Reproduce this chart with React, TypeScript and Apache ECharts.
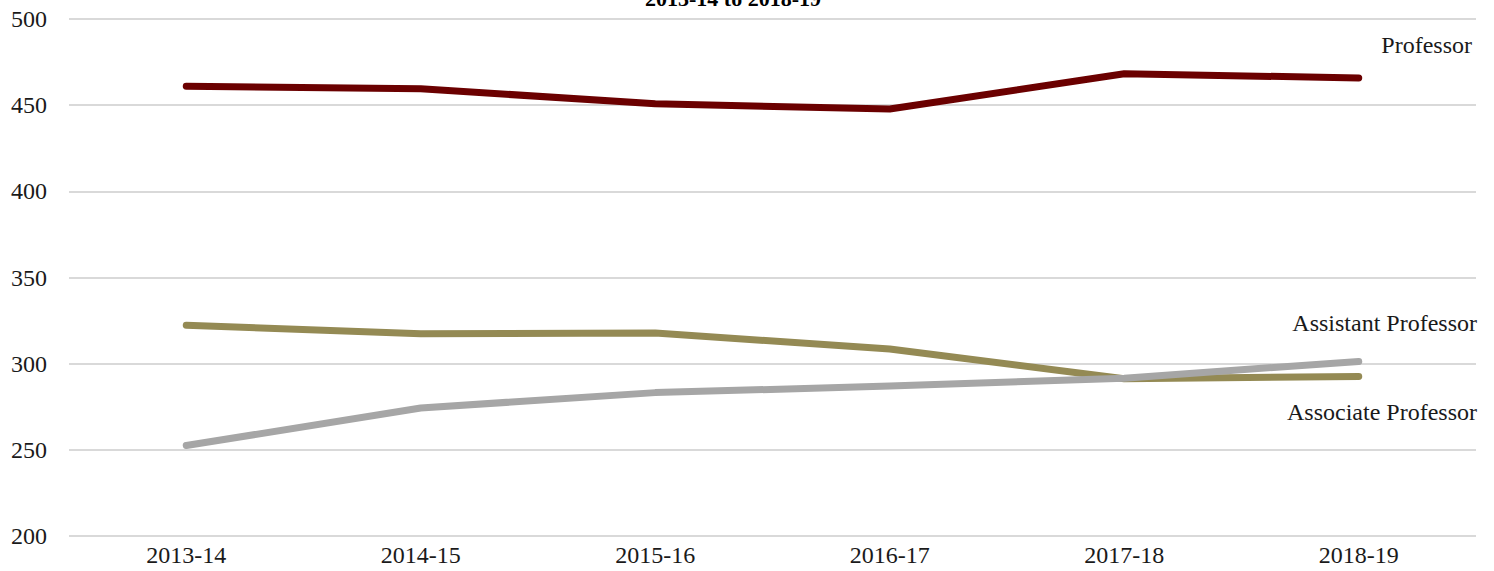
import React, { useEffect, useRef } from "react";
import * as echarts from "echarts";

const categories = ["2013-14", "2014-15", "2015-16", "2016-17", "2017-18", "2018-19"];
const professor = [461, 459.5, 450.8, 447.8, 468.2, 465.8];
const assistantProfessor = [322.3, 317.3, 317.8, 308.5, 291.2, 292.6];
const associateProfessor = [252.5, 274.3, 283.2, 287.0, 291.6, 301.3];
const yTicks = { min: 200, max: 500, interval: 50 };
const titleText = "2013-14 to 2018-19";

const FONT = "Liberation Serif";

export default function App() {
  const ref = useRef<HTMLDivElement>(null);
  useEffect(() => {
    document.body.style.margin = "0";
    if (!ref.current) return;
    const chart = echarts.init(ref.current, null, { renderer: "svg" });
    const lineSeries = (name: string, data: number[], color: string) => ({
      name,
      type: "line",
      data,
      symbol: "none",
      lineStyle: { color, width: 7, cap: "round", join: "round" },
      itemStyle: { color },
    });
    const labelStyle = (text: string) => ({
      text,
      fontFamily: FONT,
      fontSize: 24,
      fill: "#1a1a1a",
      align: "right",
      verticalAlign: "middle",
    });
    chart.setOption({
      animation: false,
      backgroundColor: "#ffffff",
      textStyle: { fontFamily: FONT },
      grid: { left: 69, right: 18, top: 19, bottom: 35, containLabel: false },
      xAxis: {
        type: "category",
        data: categories,
        boundaryGap: true,
        axisLine: { show: false },
        axisTick: { show: false },
        axisLabel: { color: "#1a1a1a", fontFamily: FONT, fontSize: 24, margin: 7 },
      },
      yAxis: {
        type: "value",
        min: yTicks.min,
        max: yTicks.max,
        interval: yTicks.interval,
        axisLine: { show: false },
        axisTick: { show: false },
        axisLabel: { color: "#1a1a1a", fontFamily: FONT, fontSize: 24, margin: 22 },
        splitLine: { lineStyle: { color: "#d9d9d9", width: 2 } },
      },
      series: [
        lineSeries("Professor", professor, "#6b0000"),
        lineSeries("Assistant Professor", assistantProfessor, "#948a54"),
        lineSeries("Associate Professor", associateProfessor, "#a6a6a6"),
      ],
      graphic: [
        {
          type: "text",
          x: 733,
          y: 9,
          style: {
            text: titleText,
            fontFamily: FONT,
            fontSize: 22,
            fontWeight: "bold",
            fill: "#000",
            align: "center",
            verticalAlign: "bottom",
          },
        },
        { type: "text", x: 1472, y: 45, style: labelStyle("Professor") },
        { type: "text", x: 1477, y: 323, style: labelStyle("Assistant Professor") },
        { type: "text", x: 1477, y: 412, style: labelStyle("Associate Professor") },
      ],
    });
    return () => chart.dispose();
  }, []);
  return <div ref={ref} style={{ width: 1494, height: 571 }} />;
}
